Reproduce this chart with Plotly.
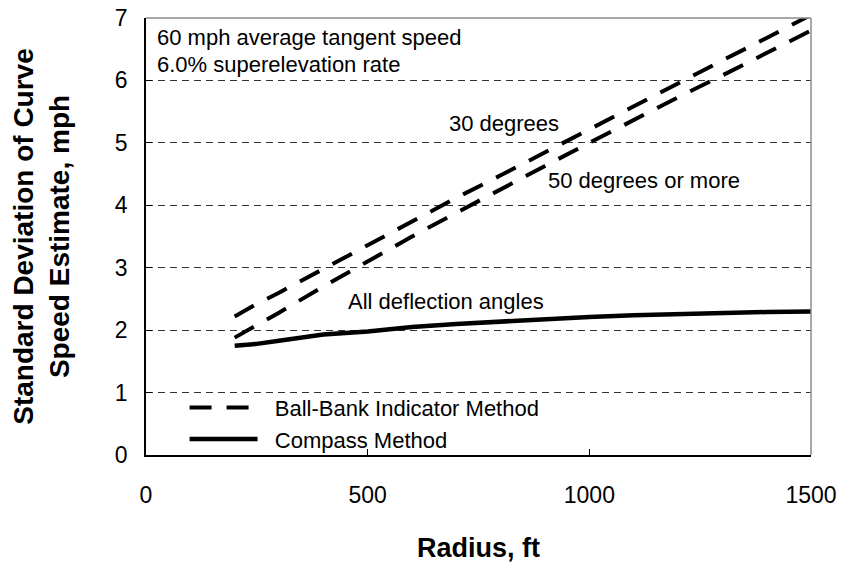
import plotly.graph_objects as go

# Radius (ft)
radius = [200, 250, 300, 400, 500, 600, 700, 800, 900, 1000, 1100, 1200, 1300, 1400, 1500]

# Ball-Bank Indicator Method: 30 degrees deflection
bb_30deg = [2.22, 2.42, 2.60, 2.98, 3.37, 3.75, 4.12, 4.48, 4.85, 5.22, 5.58, 5.95, 6.32, 6.68, 7.05]
# Ball-Bank Indicator Method: 50 degrees or more
bb_50deg = [1.88, 2.08, 2.28, 2.70, 3.10, 3.50, 3.88, 4.26, 4.63, 5.00, 5.37, 5.73, 6.08, 6.44, 6.80]
# Compass Method: all deflection angles
compass = [1.75, 1.78, 1.83, 1.93, 1.98, 2.05, 2.10, 2.14, 2.18, 2.21, 2.24, 2.26, 2.28, 2.29, 2.30]

x_ticks = [0, 500, 1000, 1500]
y_ticks = [0, 1, 2, 3, 4, 5, 6, 7]

FONT = "Arial, Liberation Sans, sans-serif"
NB = "&nbsp;&nbsp;"

fig = go.Figure()
fig.add_trace(go.Scatter(x=radius, y=bb_30deg, mode="lines", name=NB + "Ball-Bank Indicator Method",
                         line=dict(color="black", width=4, dash="22px,15px"), showlegend=True))
fig.add_trace(go.Scatter(x=radius, y=bb_50deg, mode="lines", name="Ball-Bank Indicator Method (50)",
                         line=dict(color="black", width=4, dash="22px,15px"), showlegend=False))
fig.add_trace(go.Scatter(x=radius, y=compass, mode="lines", name=NB + "Compass Method",
                         line=dict(color="black", width=4.5)))

ann_font = dict(family=FONT, size=22, color="black")
annotations = [
    dict(x=20, y=6.69, text="60 mph average tangent speed", xanchor="left"),
    dict(x=20, y=6.26, text="6.0% superelevation rate", xanchor="left"),
    dict(x=808, y=5.31, text="30 degrees", xanchor="center"),
    dict(x=1123, y=4.40, text="50 degrees or more", xanchor="center"),
    dict(x=677, y=2.46, text="All deflection angles", xanchor="center"),
]
for a in annotations:
    fig.add_annotation(xref="x", yref="y", yanchor="middle", showarrow=False, font=ann_font, **a)

fig.update_layout(
    width=844, height=564,
    margin=dict(l=146, r=33, t=18, b=109, autoexpand=False),
    paper_bgcolor="white", plot_bgcolor="white",
    font=dict(family=FONT, color="black"),
    showlegend=True,
    legend=dict(x=0.058, y=-0.013, xanchor="left", yanchor="bottom",
                bgcolor="rgba(0,0,0,0)", borderwidth=0,
                font=dict(family=FONT, size=22, color="black"),
                itemwidth=68, tracegroupgap=0),
    shapes=[
        dict(type="line", xref="paper", yref="paper", x0=0, x1=1, y0=1, y1=1,
             line=dict(color="#8c8c8c", width=1.5), layer="above"),
        dict(type="line", xref="paper", yref="paper", x0=1, x1=1, y0=0, y1=1,
             line=dict(color="#8c8c8c", width=1.5), layer="above"),
    ],
)

fig.update_xaxes(
    range=[0, 1500], tickvals=x_ticks, ticktext=[str(v) for v in x_ticks],
    showgrid=False, zeroline=False, automargin=False,
    showline=True, linecolor="black", linewidth=1.5,
    ticks="inside", ticklen=6, tickcolor="black", tickwidth=1,
    tickfont=dict(family=FONT, size=23, color="black"), ticklabelstandoff=19,
    title=dict(text="<b>Radius, ft</b>", font=dict(family=FONT, size=27, color="black"), standoff=31),
)
fig.update_yaxes(
    range=[0, 7], tickvals=y_ticks, ticktext=[str(v) for v in y_ticks],
    showgrid=True, gridcolor="#333333", gridwidth=1, griddash="7px,5px",
    zeroline=False, automargin=False,
    showline=True, linecolor="black", linewidth=1.5,
    ticks="inside", ticklen=6, tickcolor="black", tickwidth=1,
    tickfont=dict(family=FONT, size=23, color="black"), ticklabelstandoff=12,
    title=dict(text="<b>Standard Deviation of Curve<br>Speed Estimate, mph</b>",
               font=dict(family=FONT, size=28, color="black"), standoff=37),
)

fig.write_html("out.html", config={"displayModeBar": False},
               post_script="document.body.style.margin='0px';")
